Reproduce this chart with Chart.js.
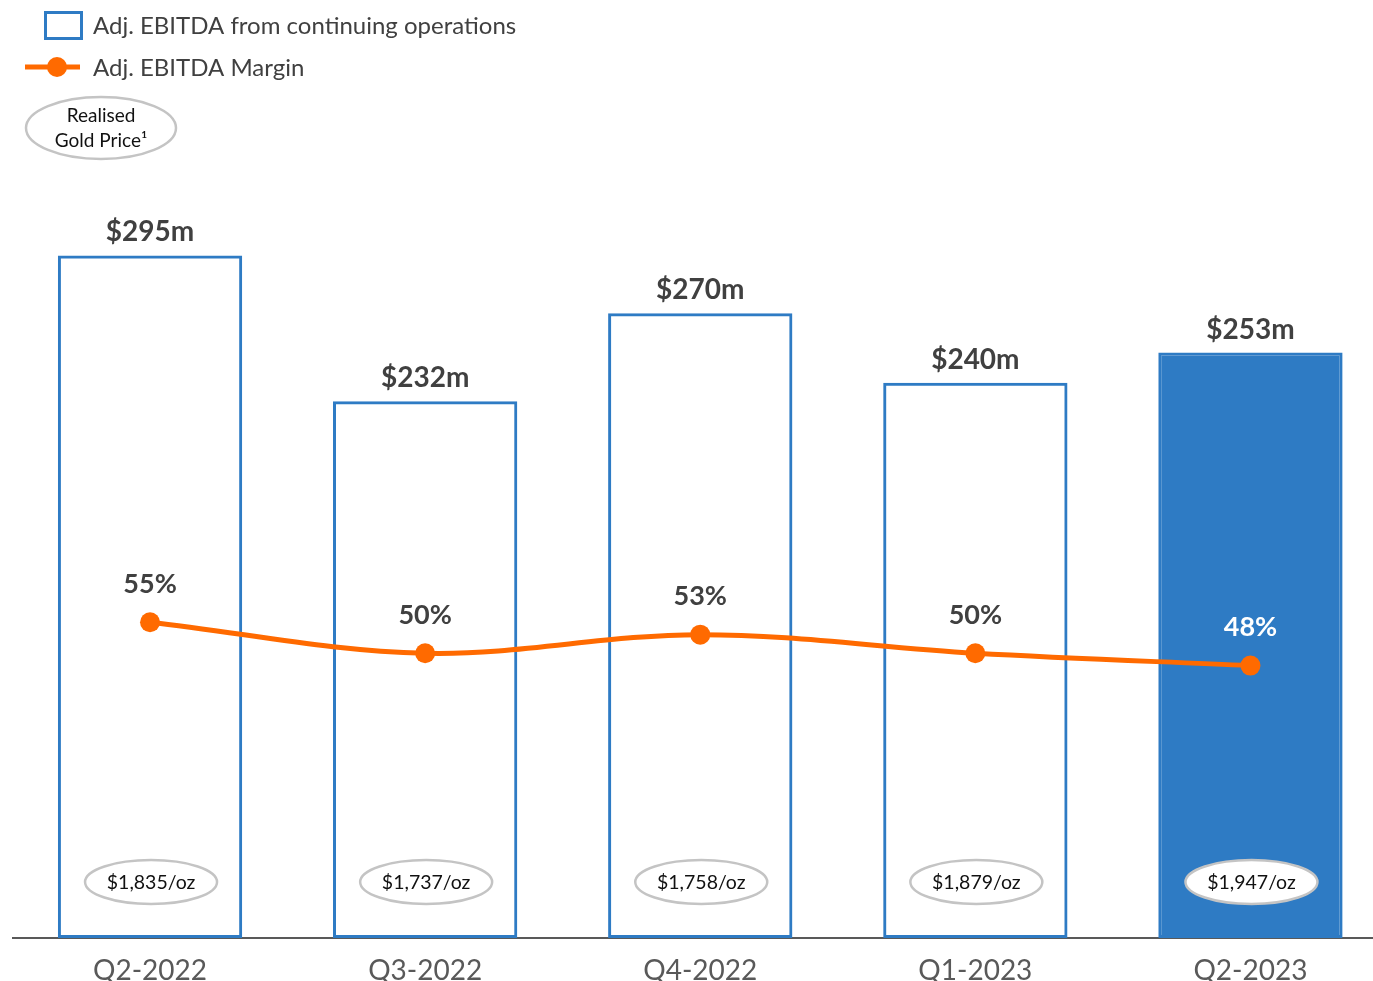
<!DOCTYPE html>
<html><head><meta charset="utf-8">
<script src="https://cdn.jsdelivr.net/npm/chart.js@4.4.0/dist/chart.umd.min.js"></script>
<style>
html,body{margin:0;padding:0;background:#fff;overflow:hidden;width:1373px;height:981px;}
#wrap{position:absolute;left:0;top:0;width:1388px;height:981px;}
</style></head>
<body>
<div id="wrap"><canvas id="c" width="1388" height="981"></canvas></div>
<script>
const categories = ['Q2-2022','Q3-2022','Q4-2022','Q1-2023','Q2-2023'];
const ebitda = [295,232,270,240,253];
const margin = [55,50,53,50,48];
const goldPrice = [1835,1737,1758,1879,1947];
const highlightIndex = 4;

const FONT = 'Lato, "Open Sans", sans-serif';
const BLUE = '#2E7BC4';
const ORANGE = '#FF6A00';
const DARK = '#404040';

const barBg = categories.map((_, i) => i === highlightIndex ? BLUE : 'rgba(0,0,0,0)');

function ellipse(ctx, cx, cy, rx, ry, fill) {
  ctx.beginPath();
  ctx.ellipse(cx, cy, rx, ry, 0, 0, Math.PI * 2);
  if (fill) { ctx.fillStyle = fill; ctx.fill(); }
  ctx.lineWidth = 2.5;
  ctx.strokeStyle = '#C4C4C4';
  ctx.stroke();
}

const overlay = {
  id: 'overlay',
  afterDatasetsDraw(chart) {
    const ctx = chart.ctx;
    const barMeta = chart.getDatasetMeta(0);
    const lineMeta = chart.getDatasetMeta(1);
    ctx.save();
    ctx.textAlign = 'center';
    ctx.textBaseline = 'middle';
    barMeta.data.forEach((bar, i) => {
      ctx.font = 'bold 28px ' + FONT;
      ctx.fillStyle = DARK;
      ctx.fillText('$' + ebitda[i] + 'm', bar.x, bar.y - 23);
      const gy = 882;
      ellipse(ctx, bar.x + 1, gy, 66, 22, i === highlightIndex ? '#FFFFFF' : null);
      ctx.font = '19.5px ' + FONT;
      ctx.fillStyle = '#111';
      ctx.fillText('$' + goldPrice[i].toLocaleString('en-US') + '/oz', bar.x + 1, gy + 1);
    });
    lineMeta.data.forEach((pt, i) => {
      ctx.font = 'bold 27px ' + FONT;
      ctx.fillStyle = i === highlightIndex ? '#FFFFFF' : DARK;
      ctx.fillText(margin[i] + '%', pt.x, pt.y - 38);
    });
    ctx.restore();
  },
  afterDraw(chart) {
    const ctx = chart.ctx;
    const ds = chart.data.datasets;
    ctx.save();
    ctx.lineWidth = 3;
    ctx.strokeStyle = BLUE;
    ctx.strokeRect(45.5, 12.5, 36, 26);
    ctx.font = '24px ' + FONT;
    ctx.fillStyle = DARK;
    ctx.textAlign = 'left';
    ctx.textBaseline = 'middle';
    ctx.fillText(ds[0].label, 93, 26);
    ctx.strokeStyle = ORANGE;
    ctx.lineWidth = 5;
    ctx.beginPath(); ctx.moveTo(25, 67); ctx.lineTo(80, 67); ctx.stroke();
    ctx.beginPath(); ctx.arc(57, 67, 10, 0, Math.PI * 2); ctx.fillStyle = ORANGE; ctx.fill();
    ctx.fillStyle = DARK;
    ctx.fillText(ds[1].label, 93, 68);
    ellipse(ctx, 101, 128, 75, 31, null);
    ctx.textAlign = 'center';
    ctx.fillStyle = '#111';
    ctx.font = '19px ' + FONT;
    ctx.fillText('Realised', 101, 116);
    ctx.fillText('Gold Price¹', 101, 141);
    ctx.restore();
  }
};

new Chart(document.getElementById('c'), {
  data: {
    labels: categories,
    datasets: [
      {
        type: 'bar', label: 'Adj. EBITDA from continuing operations', data: ebitda,
        backgroundColor: barBg, borderColor: BLUE, borderWidth: 3, borderSkipped: false,
        categoryPercentage: 0.67, barPercentage: 1, yAxisID: 'y', order: 2
      },
      {
        type: 'line', label: 'Adj. EBITDA Margin', data: margin,
        borderColor: ORANGE, backgroundColor: ORANGE, borderWidth: 5,
        pointRadius: 10, pointHoverRadius: 10, pointBackgroundColor: ORANGE,
        pointBorderWidth: 0, tension: 0.35, yAxisID: 'y1', order: 1
      }
    ]
  },
  options: {
    responsive: false,
    animation: false,
    layout: { autoPadding: false, padding: { left: 12.5, right: 0, top: 0, bottom: 0 } },
    plugins: { legend: { display: false }, tooltip: { enabled: false } },
    scales: {
      x: {
        grid: { display: false, drawTicks: false },
        border: { display: true, color: '#595959', width: 2 },
        ticks: { color: '#595959', font: { family: FONT, size: 28 }, padding: 16 },
        afterFit(scale) { scale.height = 43; }
      },
      y: { display: false, min: 0, max: 405.4 },
      y1: { display: false, min: 4.03, max: 155.45 }
    }
  },
  plugins: [overlay]
});
</script>
</body></html>
